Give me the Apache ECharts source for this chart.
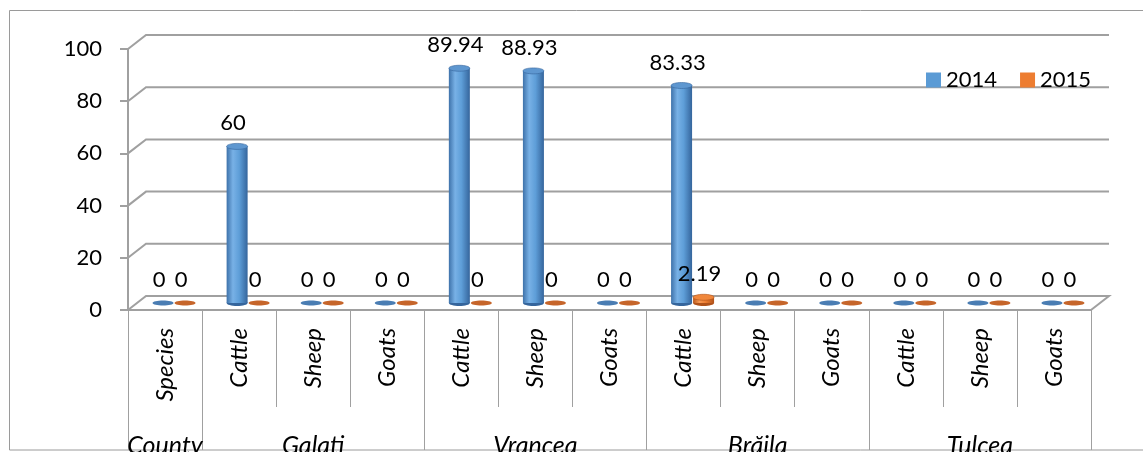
<!DOCTYPE html>
<html>
<head>
<meta charset="utf-8">
<script src="https://cdn.jsdelivr.net/npm/echarts@6/dist/echarts.min.js"></script>
<style>
  html, body { margin: 0; padding: 0; background: #fff; }
  #chart { width: 1143px; height: 452px; }
</style>
</head>
<body>
<div id="chart"></div>
<script>
// Species per county (inner axis level)
const species = ['Species', 'Cattle', 'Sheep', 'Goats', 'Cattle', 'Sheep', 'Goats',
                 'Cattle', 'Sheep', 'Goats', 'Cattle', 'Sheep', 'Goats'];
// Counties (outer axis level) and how many species columns each one covers
const countyNames = ['County', 'Galati', 'Vrancea', 'Brăila', 'Tulcea'];
const countySpans = [1, 3, 3, 3, 3];
// Values per year
const seriesNames = ['2014', '2015'];
const values2014 = [0, 60, 0, 0, 89.94, 88.93, 0, 83.33, 0, 0, 0, 0, 0];
const values2015 = [0, 0, 0, 0, 0, 0, 0, 2.19, 0, 0, 0, 0, 0];
// Value axis ticks
const yTicks = [0, 20, 40, 60, 80, 100];

const FONT = 'Lato, "Open Sans", sans-serif';
const DEPTH_X = 18, DEPTH_Y = -14;   // offset of the back wall from the front plane
const BAR_W = 21;
const LINE = '#a0a0a0';

// outer-level labels sit on the middle column of each county; separators at county starts
const countyLabels = [];
const countyStarts = [];
let pos = 0;
countyNames.forEach(function (name, i) {
  const span = countySpans[i];
  countyStarts.push(pos);
  for (let k = 0; k < span; k++) countyLabels.push(k === Math.floor(span / 2) ? name : '');
  pos += span;
});

const palettes = {
  '2014': { edge: '#3e72aa', light: '#78b1e6', mid: '#5e9ed8', dark: '#35659c', top: '#5e97d0', flat: '#4a7db3' },
  '2015': { edge: '#b8561a', light: '#f79a55', mid: '#ed7d31', dark: '#b0521a', top: '#f0873c', flat: '#c6652a' }
};

function cylinderRenderer(pal, shift) {
  return function (params, api) {
    const i = api.value(0), v = api.value(1);
    const p = api.coord([i, v]);
    const b = api.coord([i, 0]);
    const cx = p[0] + shift + DEPTH_X / 2;
    const ty = p[1] + DEPTH_Y / 2;
    const by = b[1] + DEPTH_Y / 2;
    const rx = BAR_W / 2;
    const h = by - ty;
    const children = [];
    if (h > 1) {
      children.push({ type: 'ellipse', shape: { cx: cx, cy: by, rx: rx, ry: 3 }, style: { fill: pal.dark } });
      children.push({
        type: 'rect',
        shape: { x: cx - rx, y: ty, width: BAR_W, height: h },
        style: {
          fill: new echarts.graphic.LinearGradient(0, 0, 1, 0, [
            { offset: 0, color: pal.edge },
            { offset: 0.3, color: pal.light },
            { offset: 0.6, color: pal.mid },
            { offset: 1, color: pal.dark }
          ])
        }
      });
      children.push({ type: 'ellipse', shape: { cx: cx, cy: ty, rx: rx, ry: 3 }, style: { fill: pal.top, stroke: pal.dark, lineWidth: 0.6 } });
    } else {
      children.push({ type: 'ellipse', shape: { cx: cx, cy: by, rx: rx, ry: 2.5 }, style: { fill: pal.flat } });
    }
    children.push({
      type: 'text', x: cx - 4, y: ty - 23,
      style: { text: String(v), fill: '#000', fontSize: 22, fontFamily: FONT, align: 'center', verticalAlign: 'middle' }
    });
    return { type: 'group', children: children };
  };
}

// back wall gridlines with their diagonal links to the front axis, plus the floor outline
function wallRenderer(params, api) {
  const cs = params.coordSys;
  const v = api.value(1);
  const y = api.coord([0, v])[1];
  const x0 = cs.x, x1 = cs.x + cs.width;
  const pts = [[x0, y], [x0 + DEPTH_X, y + DEPTH_Y], [x1 + DEPTH_X, y + DEPTH_Y]];
  if (v === 0) pts.push([x1, y]);
  return { type: 'polyline', shape: { points: pts }, style: { stroke: LINE, lineWidth: 2, fill: null } };
}

const chart = echarts.init(document.getElementById('chart'), null, { renderer: 'canvas' });

const labelStyle = { color: '#000', fontSize: 22, fontFamily: FONT };

chart.setOption({
  animation: false,
  backgroundColor: '#fff',
  graphic: [{
    type: 'rect', silent: true,
    shape: { x: 9.5, y: 10.5, width: 1160, height: 439.5 },
    style: { fill: null, stroke: '#9a9a9a', lineWidth: 1 }
  }],
  legend: {
    data: seriesNames, left: 921, top: 64, icon: 'rect',
    itemWidth: 15, itemHeight: 15, itemGap: 23, selectedMode: false,
    textStyle: labelStyle
  },
  grid: { left: 128, right: 52, top: 49, bottom: 142, outerBoundsMode: 'none' },
  xAxis: [{
    type: 'category', data: species, position: 'bottom',
    axisLine: { show: true, lineStyle: { color: LINE, width: 2 } },
    axisTick: { show: true, interval: 0, length: 97, lineStyle: { color: LINE, width: 1 } },
    axisLabel: Object.assign({}, labelStyle, { interval: 0, rotate: 90, margin: 18, fontStyle: 'italic', fontSize: 24 }),
    splitLine: { show: false }
  }, {
    type: 'category', data: countyLabels, position: 'bottom',
    axisLine: { show: false },
    axisTick: {
      show: true, length: 140,
      interval: function (idx) { return countyStarts.indexOf(idx) >= 0; },
      lineStyle: { color: LINE, width: 1 }
    },
    axisLabel: Object.assign({}, labelStyle, { interval: 0, margin: 123, fontStyle: 'italic', fontSize: 25 }),
    splitLine: { show: false }
  }],
  yAxis: {
    type: 'value', min: 0, max: 100, interval: 20,
    axisLine: { show: true, lineStyle: { color: LINE, width: 2 } },
    axisTick: { show: true, length: 8, lineStyle: { color: LINE, width: 2 } },
    axisLabel: Object.assign({ margin: 26 }, labelStyle),
    splitLine: { show: false }
  },
  series: [{
    type: 'custom', name: 'wall', silent: true, z: 1,
    data: yTicks.map(function (v) { return [0, v]; }),
    renderItem: wallRenderer
  }, {
    type: 'custom', name: seriesNames[0], z: 3,
    itemStyle: { color: '#5b9bd5' },
    data: values2014.map(function (v, i) { return [i, v]; }),
    renderItem: cylinderRenderer(palettes['2014'], -11)
  }, {
    type: 'custom', name: seriesNames[1], z: 3,
    itemStyle: { color: '#ed7d31' },
    data: values2015.map(function (v, i) { return [i, v]; }),
    renderItem: cylinderRenderer(palettes['2015'], 11)
  }]
});
</script>
</body>
</html>
